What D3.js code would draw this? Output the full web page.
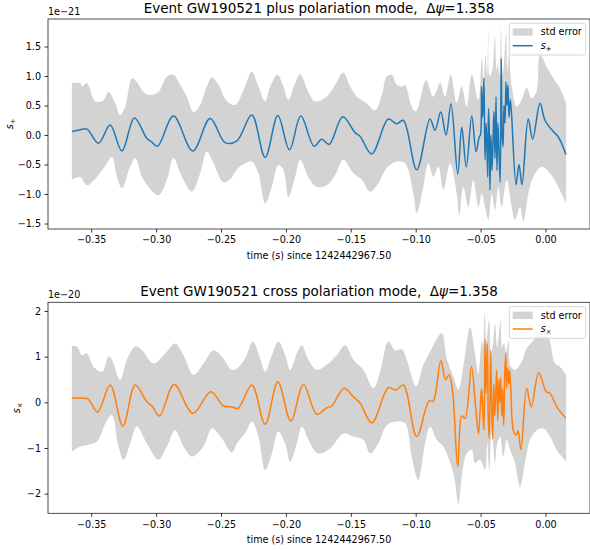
<!DOCTYPE html>
<html>
<head>
<meta charset="utf-8">
<script src="https://cdn.jsdelivr.net/npm/d3@7"></script>
<style>
  body { margin: 0; background: #fff; }
  svg { display: block; }
  text { font-family: "DejaVu Sans", sans-serif; fill: #000; white-space: pre; }
</style>
</head>
<body>
<svg id="chart" width="590" height="550"></svg>
<script>
// ---- axis ticks ----
const xTicks = [-0.35, -0.30, -0.25, -0.20, -0.15, -0.10, -0.05, 0.00];
const plusTicks = [-1.5, -1.0, -0.5, 0.0, 0.5, 1.0, 1.5];
const crossTicks = [-2, -1, 0, 1, 2];

// ---- plus polarisation (units of 1e-21) ----
const plusT = [-0.3649,-0.3585,-0.3533,-0.3444,-0.3354,-0.3264,-0.3167,-0.3071,-0.3038,-0.2989,-0.2866,-0.2717,-0.2584,-0.2468,-0.2378,-0.2263,-0.2160,-0.2062,-0.1973,-0.1885,-0.1783,-0.1724,-0.1667,-0.1562,-0.1467,-0.1429,-0.1339,-0.1211,-0.1146,-0.1095,-0.0992,-0.0890,-0.0851,-0.0807,-0.0766,-0.0728,-0.0676,-0.0645,-0.0610,-0.0568,-0.0535,-0.0510,
  -0.0501,-0.0493,-0.0485,-0.0479,-0.0474,-0.0466,-0.0458,-0.0451,-0.0445,-0.0439,-0.0433,-0.0428,-0.0420,-0.0412,-0.0404,-0.0397,-0.0389,-0.0381,-0.0374,-0.0366,-0.0358,-0.0349,-0.0341,-0.0334,-0.0327,-0.0320,-0.0312,-0.0304,-0.0297,-0.0289,-0.0281,-0.0270,
  -0.0227,-0.0204,-0.0181,-0.0133,-0.0099,-0.0042,-0.0004,0.0060,0.0098,0.0158];
const plusV = [0.06,0.09,0.10,-0.14,0.17,-0.27,0.29,-0.06,-0.11,-0.19,0.32,-0.27,0.28,-0.13,-0.10,0.34,-0.38,0.33,-0.25,0.32,-0.19,-0.07,-0.16,0.31,0.04,-0.02,-0.32,0.27,0.19,0.25,-0.59,0.27,0.08,0.39,0.0,0.53,-0.66,0.13,-0.54,0.32,-0.28,-0.03,
  0.0,0.82,0.3,0.6,0.96,-0.42,0.2,-0.2,-0.71,0.45,0.1,-0.93,0.0,-0.6,-0.1,0.4,-0.4,0.65,-0.6,0.2,-0.3,-0.8,1.30,0.0,-0.2,0.5,0.2,0.9,0.5,0.85,0.3,0.6,
  -0.84,-0.50,-0.84,0.27,-0.07,0.54,0.25,0.06,-0.03,-0.33];

const plusHiT = [-0.3649,-0.3585,-0.3571,-0.3533,-0.3469,-0.3405,-0.3367,-0.3315,-0.3277,-0.3238,-0.3186,-0.3148,-0.3097,-0.3046,-0.2982,-0.2917,-0.2866,-0.2815,-0.2763,-0.2712,-0.2661,-0.2609,-0.2570,-0.2520,-0.2455,-0.2391,-0.2327,-0.2262,-0.2212,-0.2160,-0.2121,-0.2065,-0.2019,-0.1981,-0.1929,-0.1890,-0.1827,-0.1775,-0.1685,-0.1621,-0.1557,-0.1505,-0.1454,-0.1377,-0.1313,-0.1261,-0.1223,-0.1184,-0.1146,-0.1107,-0.1082,-0.1030,-0.0997,-0.0920,-0.0864,-0.0812,-0.0774,-0.0730,-0.0684,-0.0645,-0.0607,-0.0568,-0.0517,
  -0.0491,-0.0477,-0.0462,-0.0450,-0.0440,-0.0431,-0.0414,-0.0400,-0.0389,-0.0377,-0.0366,-0.0354,-0.0343,-0.0331,-0.0320,-0.0304,-0.0293,-0.0281,-0.0260,
  -0.0222,-0.0183,-0.0145,-0.0106,-0.0068,-0.0042,0.0009,0.0060,0.0112,0.0159];
const plusHiV = [0.88,0.88,0.82,0.88,0.57,0.59,0.73,0.54,0.34,0.48,0.96,0.90,0.73,0.68,0.73,0.99,1.02,0.85,0.65,0.39,0.51,0.82,0.98,0.85,0.57,0.51,0.76,1.07,0.82,0.57,0.82,1.02,0.82,0.59,0.88,1.03,0.73,0.57,0.65,0.85,1.06,0.82,0.65,0.54,0.42,0.68,0.99,1.02,0.85,0.82,0.85,0.48,0.40,0.93,0.65,0.88,0.65,1.02,0.54,0.82,0.48,1.02,0.59,
  1.30,0.95,1.35,1.00,1.81,1.00,1.05,1.30,1.67,1.10,1.20,1.00,1.81,1.00,1.20,1.72,1.10,1.40,0.82,
  0.48,0.60,0.80,0.62,0.75,1.36,1.16,0.96,0.79,0.54];

const plusLoT = [-0.3649,-0.3585,-0.3533,-0.3456,-0.3379,-0.3340,-0.3302,-0.3263,-0.3200,-0.3161,-0.3097,-0.2982,-0.2917,-0.2866,-0.2801,-0.2724,-0.2661,-0.2609,-0.2558,-0.2483,-0.2430,-0.2376,-0.2314,-0.2262,-0.2212,-0.2160,-0.2108,-0.2058,-0.2019,-0.1981,-0.1929,-0.1890,-0.1827,-0.1762,-0.1685,-0.1621,-0.1557,-0.1480,-0.1415,-0.1351,-0.1288,-0.1223,-0.1146,-0.1082,-0.1018,-0.0992,-0.0941,-0.0902,-0.0864,-0.0825,-0.0787,-0.0735,-0.0684,-0.0664,-0.0633,-0.0594,-0.0556,-0.0517,
  -0.0491,-0.0466,-0.0440,-0.0414,-0.0389,-0.0363,-0.0337,-0.0299,-0.0260,-0.0235,-0.0196,-0.0171,-0.0132,-0.0094,-0.0029,0.0035,0.0099,0.0159];
const plusLoV = [-0.76,-0.71,-0.85,-0.71,-0.48,-0.37,-0.71,-0.90,-0.54,-0.39,-0.76,-1.02,-0.76,-0.39,-0.71,-0.96,-0.65,-0.28,-0.48,-0.80,-0.75,-0.58,-0.48,-0.45,-0.65,-1.16,-0.88,-0.51,-0.59,-1.05,-0.71,-0.42,-0.71,-0.88,-0.85,-0.68,-0.42,-0.65,-0.76,-0.96,-0.82,-0.56,-0.45,-0.48,-0.99,-1.32,-0.88,-0.48,-0.71,-0.54,-0.93,-0.48,-0.99,-1.36,-0.88,-1.22,-0.76,-1.22,
  -0.99,-1.22,-1.44,-0.99,-1.27,-0.88,-1.22,-0.76,-1.22,-1.44,-1.22,-1.47,-0.99,-0.71,-0.54,-0.65,-0.88,-1.16];

// ---- cross polarisation (units of 1e-20) ----
const crossT = [-0.3649,-0.3559,-0.3523,-0.3451,-0.3354,-0.3256,-0.3161,-0.3071,-0.3032,-0.2974,-0.2861,-0.2717,-0.2578,-0.2481,-0.2416,-0.2368,-0.2262,-0.2160,-0.2062,-0.1962,-0.1865,-0.1762,-0.1685,-0.1646,-0.1552,-0.1480,-0.1428,-0.1338,-0.1211,-0.1151,-0.1095,-0.0992,-0.0897,-0.0866,-0.0806,-0.0770,-0.0743,-0.0716,-0.0676,-0.0645,-0.0620,-0.0570,-0.0543,-0.0516,
  -0.0504,-0.0493,-0.0481,-0.0474,-0.0466,-0.0458,-0.0448,-0.0440,-0.0433,-0.0422,-0.0414,-0.0407,-0.0399,-0.0391,-0.0383,-0.0376,-0.0368,-0.0360,-0.0353,-0.0345,-0.0337,-0.0330,-0.0322,-0.0314,-0.0306,-0.0299,-0.0291,-0.0283,-0.0276,-0.0266,
  -0.0248,-0.0227,-0.0212,-0.0189,-0.0145,-0.0110,-0.0052,0.0006,0.0035,0.0087,0.0158];
const crossV = [0.09,0.09,0.07,-0.21,0.38,-0.52,0.38,0.01,-0.08,-0.30,0.39,-0.24,0.23,-0.08,-0.10,-0.13,0.38,-0.48,0.45,-0.41,0.39,-0.26,-0.12,-0.08,0.31,0.12,-0.02,-0.45,0.32,0.27,0.38,-0.75,0.03,0.02,0.91,0.50,0.60,0.25,-1.41,-0.30,-0.35,0.78,0.05,-0.69,
  -0.2,0.3,-0.3,-0.61,1.38,0.2,1.29,-0.4,-0.79,1.14,-0.2,-0.8,0.4,-0.3,0.2,0.71,-0.4,0.5,0.0,0.55,-0.3,0.3,-0.5,0.6,1.07,0.3,0.75,0.4,0.7,0.2,
  -0.61,-0.72,-0.62,-1.04,0.31,-0.10,0.65,0.23,0.20,-0.10,-0.35];

const crossHiT = [-0.3649,-0.3610,-0.3571,-0.3533,-0.3482,-0.3417,-0.3367,-0.3340,-0.3277,-0.3225,-0.3161,-0.3109,-0.3020,-0.2930,-0.2853,-0.2789,-0.2712,-0.2635,-0.2558,-0.2493,-0.2416,-0.2378,-0.2314,-0.2255,-0.2198,-0.2160,-0.2108,-0.2058,-0.2006,-0.1967,-0.1916,-0.1877,-0.1827,-0.1762,-0.1685,-0.1608,-0.1544,-0.1480,-0.1403,-0.1326,-0.1274,-0.1211,-0.1159,-0.1107,-0.1069,-0.0997,-0.0941,-0.0889,-0.0799,-0.0761,-0.0710,-0.0671,-0.0633,-0.0581,-0.0543,-0.0517,
  -0.0491,-0.0481,-0.0467,-0.0456,-0.0435,-0.0420,-0.0404,-0.0389,-0.0373,-0.0362,-0.0347,-0.0335,-0.0320,-0.0304,-0.0284,-0.0270,
  -0.0235,-0.0183,-0.0145,-0.0094,-0.0035,0.0022,0.0073,0.0112,0.0159];
const crossHiV = [1.23,1.22,1.03,1.07,0.78,0.67,1.00,0.93,0.49,0.93,1.22,1.14,0.85,1.07,1.29,1.03,0.60,0.85,1.14,1.00,0.71,0.74,0.96,1.33,0.96,0.67,1.03,1.33,1.03,0.71,1.07,1.25,0.93,0.71,0.82,1.03,1.25,0.93,0.71,0.31,0.67,1.33,1.14,1.16,0.93,0.35,0.82,1.11,1.51,0.96,0.56,0.27,0.78,1.65,1.07,0.63,
  1.36,1.20,1.98,1.30,1.80,1.05,1.30,1.73,1.20,1.40,1.80,1.20,1.30,1.10,1.36,0.80,
  0.71,0.89,1.18,1.36,1.60,1.44,0.85,0.78,0.60];

const crossLoT = [-0.3649,-0.3585,-0.3521,-0.3456,-0.3379,-0.3340,-0.3290,-0.3251,-0.3200,-0.3148,-0.3071,-0.2982,-0.2917,-0.2853,-0.2789,-0.2724,-0.2635,-0.2570,-0.2493,-0.2416,-0.2378,-0.2314,-0.2262,-0.2212,-0.2160,-0.2108,-0.2058,-0.2006,-0.1967,-0.1916,-0.1877,-0.1813,-0.1750,-0.1659,-0.1557,-0.1480,-0.1403,-0.1351,-0.1288,-0.1223,-0.1146,-0.1082,-0.1030,-0.0980,-0.0928,-0.0889,-0.0838,-0.0787,-0.0710,-0.0671,-0.0645,-0.0607,-0.0568,-0.0543,
  -0.0504,-0.0466,-0.0448,-0.0433,-0.0414,-0.0389,-0.0376,-0.0350,-0.0325,-0.0299,-0.0273,
  -0.0235,-0.0196,-0.0158,-0.0119,-0.0068,-0.0017,0.0035,0.0086,0.0159];
const crossLoV = [-1.08,-0.97,-0.93,-0.86,-0.39,-0.28,-0.97,-1.26,-0.90,-0.53,-0.90,-1.26,-0.97,-0.61,-0.97,-1.19,-0.97,-0.57,-0.79,-1.10,-0.90,-0.68,-0.42,-0.75,-1.48,-1.12,-0.64,-0.90,-1.30,-0.90,-0.53,-0.90,-1.12,-1.01,-0.68,-0.75,-0.82,-1.12,-0.90,-0.50,-0.42,-0.46,-1.19,-1.70,-0.90,-0.53,-0.82,-0.97,-1.55,-2.21,-1.63,-1.12,-1.04,-1.33,
  -1.26,-1.48,-0.90,-1.52,-0.61,-1.33,-0.97,-0.75,-1.19,-0.82,-1.04,
  -1.33,-1.85,-1.33,-0.82,-0.61,-0.57,-0.75,-1.04,-1.30];

// ---- drawing ----
const svg = d3.select("#chart");
const LEFT = 48, RIGHT = 590;
const x = d3.scaleLinear().domain([-0.3833, 0.0343]).range([LEFT, RIGHT]);
const minusSign = s => s.replace("-", "\u2212");

const panels = [
  {
    id: "plus", top: 19, bottom: 229, domain: [-1.593, 1.966],
    ticks: plusTicks, fmt: d3.format(".1f"), offset: "1e\u221221",
    titleStart: "Event GW190521 plus polariation mode,\u00a0 \u0394",
    sub: "+", color: "#1f77b4", labelX: 10,
    line: d3.zip(plusT, plusV), hi: d3.zip(plusHiT, plusHiV), lo: d3.zip(plusLoT, plusLoV)
  },
  {
    id: "cross", top: 302.3, bottom: 513.3, domain: [-2.43, 2.19],
    ticks: crossTicks, fmt: d3.format("d"), offset: "1e\u221220",
    titleStart: "Event GW190521 cross polariation mode,\u00a0 \u0394",
    sub: "\u00d7", color: "#ff7f0e", labelX: 17,
    line: d3.zip(crossT, crossV), hi: d3.zip(crossHiT, crossHiV), lo: d3.zip(crossLoT, crossLoV)
  }
];

panels.forEach(p => {
  const y = d3.scaleLinear().domain(p.domain).range([p.bottom, p.top]);
  const g = svg.append("g");

  g.append("clipPath").attr("id", "clip-" + p.id)
    .append("rect").attr("x", LEFT).attr("y", p.top)
    .attr("width", RIGHT - LEFT).attr("height", p.bottom - p.top);

  const plot = g.append("g").attr("clip-path", `url(#clip-${p.id})`);
  const curve = d3.line()
    .x(d => x(d[0])).y(d => y(d[1]))
    .curve(d3.curveCatmullRom.alpha(0.5));

  // std error band: upper edge forward, lower edge back
  const upper = curve(p.hi);
  const lower = curve(p.lo.slice().reverse());
  plot.append("path")
    .attr("d", upper + lower.replace(/^M/, "L") + "Z")
    .attr("fill", "#d3d3d3").attr("stroke", "none");

  plot.append("path")
    .attr("d", curve(p.line))
    .attr("fill", "none").attr("stroke", p.color)
    .attr("stroke-width", 1.5).attr("stroke-linejoin", "round");

  // axes
  const xa = g.append("g").attr("transform", `translate(0,${p.bottom})`)
    .call(d3.axisBottom(x).tickValues(xTicks).tickSize(3.5).tickPadding(4)
      .tickFormat(d => minusSign(d3.format(".2f")(d))));
  const ya = g.append("g").attr("transform", `translate(${LEFT},0)`)
    .call(d3.axisLeft(y).tickValues(p.ticks).tickSize(3.5).tickPadding(3.5)
      .tickFormat(d => minusSign(p.fmt(d))));
  [xa, ya].forEach(a => {
    a.select(".domain").remove();
    a.selectAll("line").attr("stroke", "#000").attr("stroke-width", 0.8);
    a.selectAll("text").attr("font-size", 9.6).attr("font-family", "DejaVu Sans").attr("fill", "#000");
  });

  // frame
  g.append("rect").attr("x", LEFT).attr("y", p.top)
    .attr("width", RIGHT - LEFT).attr("height", p.bottom - p.top)
    .attr("fill", "none").attr("stroke", "#222").attr("stroke-width", 0.8);

  // offset text
  g.append("text").attr("x", LEFT).attr("y", p.top - 4)
    .attr("font-size", 9.6).text(p.offset);

  // title
  const t = g.append("text").attr("x", (LEFT + RIGHT) / 2).attr("y", p.top - 6.5)
    .attr("text-anchor", "middle").attr("font-size", 13.5);
  t.append("tspan").text(p.titleStart);
  t.append("tspan").attr("font-style", "italic").text("\u03c8");
  t.append("tspan").text("=1.358");

  // x label
  g.append("text").attr("x", (LEFT + RIGHT) / 2).attr("y", p.bottom + 29.5)
    .attr("text-anchor", "middle").attr("font-size", 9.6)
    .text("time (s) since 1242442967.50");

  // y label
  const yl = g.append("text")
    .attr("transform", `translate(${p.labelX + 3},${(p.top + p.bottom) / 2}) rotate(-90)`)
    .attr("text-anchor", "middle").attr("font-size", 9.6);
  yl.append("tspan").attr("font-style", "italic").text("s");
  yl.append("tspan").attr("font-size", 6.8).attr("dy", 2).text(p.sub);

  // legend
  const lg = g.append("g").attr("transform", `translate(${RIGHT - 80.7},${p.top + 4.3})`);
  lg.append("rect").attr("width", 76.4).attr("height", 31.7).attr("rx", 2)
    .attr("fill", "#fff").attr("fill-opacity", 0.8)
    .attr("stroke", "#cccccc").attr("stroke-width", 0.8);
  lg.append("rect").attr("x", 3.4).attr("y", 5).attr("width", 20).attr("height", 7.4)
    .attr("fill", "#d3d3d3");
  lg.append("text").attr("x", 31.4).attr("y", 12.2).attr("font-size", 9.6).text("std error");
  lg.append("line").attr("x1", 3.4).attr("x2", 23.4).attr("y1", 22.4).attr("y2", 22.4)
    .attr("stroke", p.color).attr("stroke-width", 1.5);
  const lt = lg.append("text").attr("x", 31.4).attr("y", 25.5).attr("font-size", 9.6);
  lt.append("tspan").attr("font-style", "italic").text("s");
  lt.append("tspan").attr("font-size", 6.8).attr("dy", 2).text(p.sub);
});
</script>
</body>
</html>
